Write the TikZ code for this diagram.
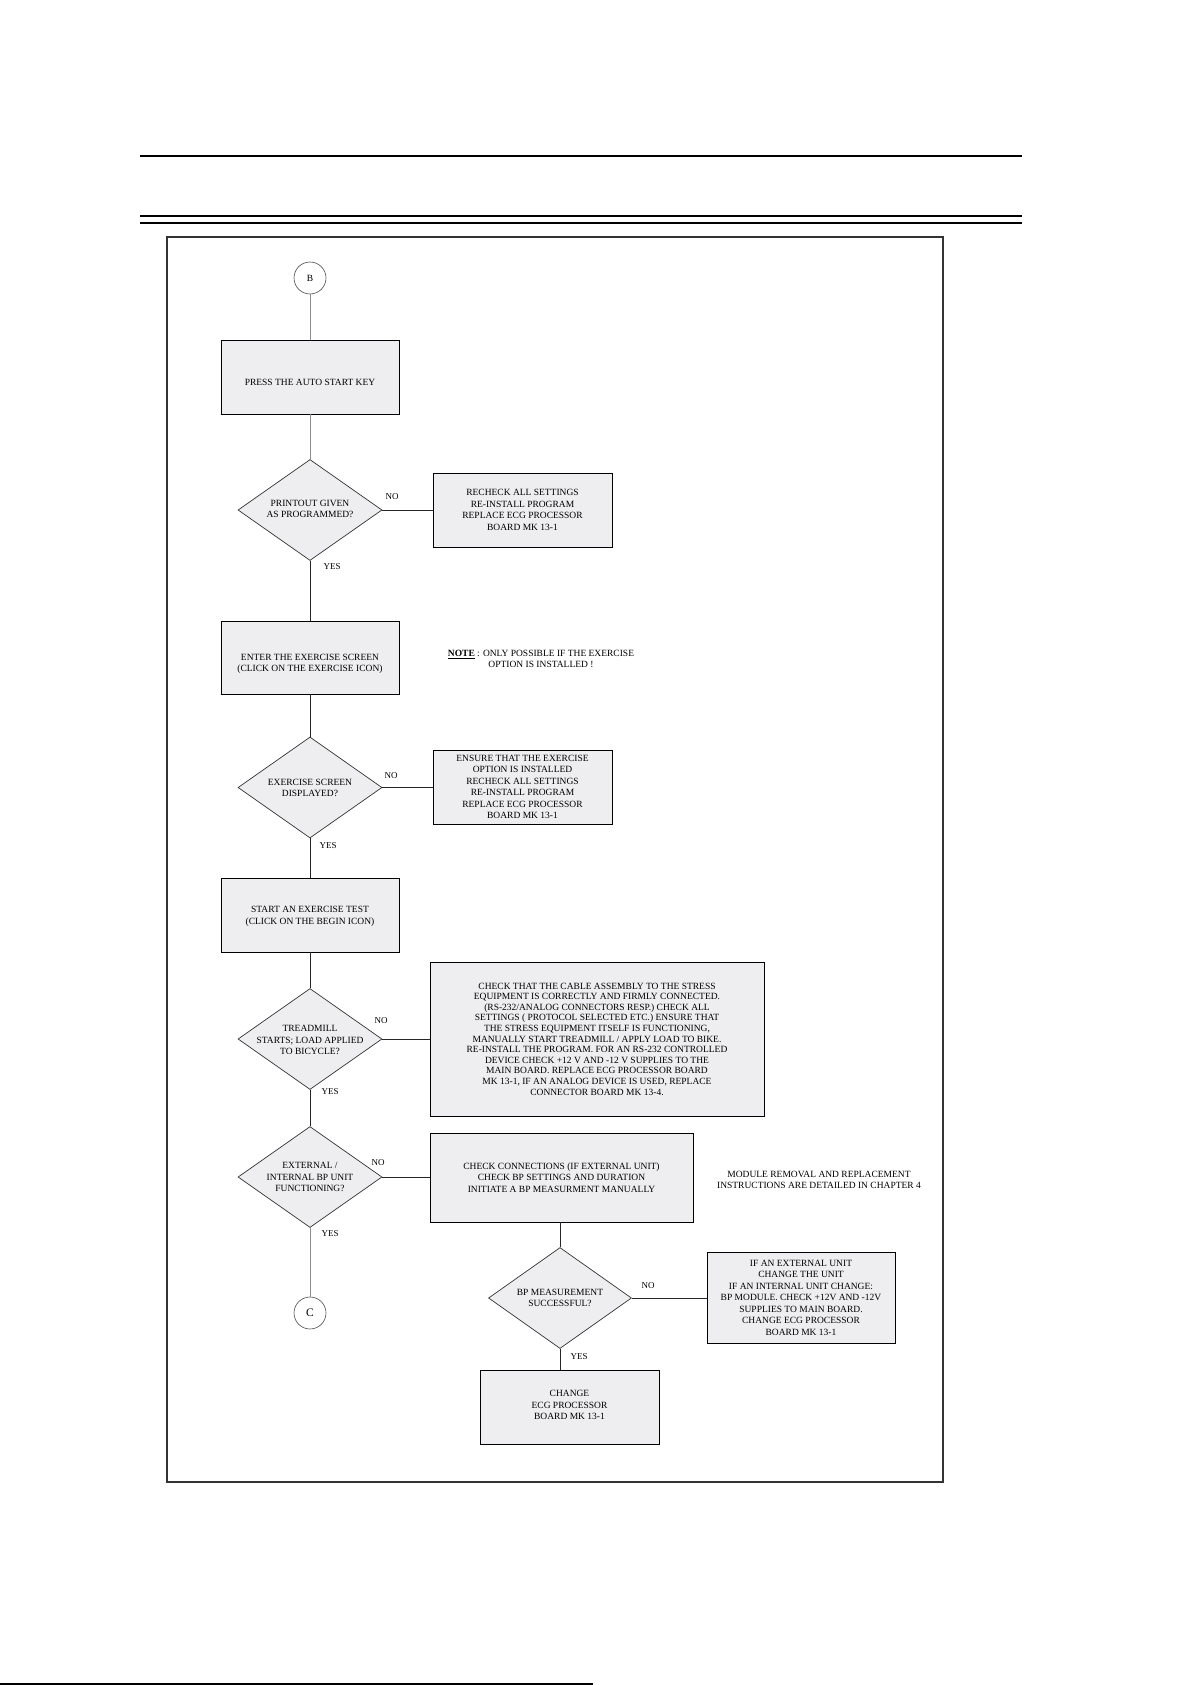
\documentclass[tikz,border=0pt]{standalone}
\usepackage{fontspec}
\setmainfont{Liberation Serif}
\usetikzlibrary{shapes.geometric}
\definecolor{boxfill}{RGB}{238,238,240}
\begin{document}
\begin{tikzpicture}[x=1pt,y=-1pt,
  every node/.style={font=\fontsize{9.5}{11.5}\selectfont, inner sep=0pt},
  box/.style={rectangle, draw=black, line width=0.9pt, fill=boxfill, align=center},
  dia/.style={diamond, draw=black!80, line width=0.7pt, fill=boxfill, minimum width=144pt, minimum height=101pt},
  dtext/.style={align=center},
  conn/.style={line width=0.8pt, draw=black!85},
  lconn/.style={line width=0.8pt, draw=black!45},
  conn2/.style={circle, draw=black!70, line width=0.6pt, minimum size=32pt, fill=white},
  lab/.style={font=\fontsize{9}{10}\selectfont},
  frame/.style={draw=black!80, line width=2.6pt},
  rule/.style={draw=black, line width=1.2pt}]
\useasboundingbox (0,0) rectangle (1191,1685);

% page rules
\draw[rule] (140,156) -- (1022,156);
\draw[rule] (140,216) -- (1022,216);
\draw[rule] (140,223) -- (1022,223);
\draw[draw=black, line width=2pt] (0,1684) -- (593,1684);

% frame
\draw[frame] (167,237) rectangle (943,1482);

% nodes
\node[conn2] (B) at (310,278) {\fontsize{9.5}{10}\selectfont B};
\node[box, minimum width=178pt, minimum height=74pt] (b1) at (310,377) {\raisebox{-5.5pt}[\height][\depth]{PRESS THE AUTO START KEY}};

\node[dia] (d1) at (310,510) {};
\node[dtext] (d1t) at (310,509) {PRINTOUT GIVEN\\AS PROGRAMMED?};
\node[box, minimum width=179pt, minimum height=74pt] (r1) at (522.5,510) {RECHECK ALL SETTINGS\\RE-INSTALL PROGRAM\\REPLACE ECG PROCESSOR\\BOARD MK 13-1};

\node[box, minimum width=178pt, minimum height=73pt] (b2) at (310,657.5) {\raisebox{-6.5pt}[\height][\depth]{\parbox{170pt}{\centering ENTER THE EXERCISE SCREEN\\(CLICK ON THE EXERCISE ICON)}}};
\node[align=center] (note1) at (541,659) {\textbf{\underline{NOTE}} : ONLY POSSIBLE IF THE EXERCISE\\OPTION IS INSTALLED !};

\node[dia] (d2) at (310,787.5) {};
\node[dtext] (d2t) at (310,788) {EXERCISE SCREEN\\DISPLAYED?};
\node[box, minimum width=179pt, minimum height=74pt] (r2) at (522.5,787) {ENSURE THAT THE EXERCISE\\OPTION IS INSTALLED\\RECHECK ALL SETTINGS\\RE-INSTALL PROGRAM\\REPLACE ECG PROCESSOR\\BOARD MK 13-1};

\node[box, minimum width=178pt, minimum height=74pt] (b3) at (310,915) {\raisebox{-1.5pt}[\height][\depth]{\parbox{170pt}{\centering START AN EXERCISE TEST\\(CLICK ON THE BEGIN ICON)}}};

\node[dia] (d3) at (310,1039) {};
\node[dtext] (d3t) at (310,1040) {TREADMILL\\STARTS; LOAD APPLIED\\TO BICYCLE?};
\node[box, minimum width=334pt, minimum height=154pt, font=\fontsize{9.5}{10.6}\selectfont] (r3) at (597,1039) {CHECK THAT THE CABLE ASSEMBLY TO THE STRESS\\EQUIPMENT IS CORRECTLY AND FIRMLY CONNECTED.\\(RS-232/ANALOG CONNECTORS RESP.) CHECK ALL\\SETTINGS ( PROTOCOL SELECTED ETC.) ENSURE THAT\\THE STRESS EQUIPMENT ITSELF IS FUNCTIONING,\\MANUALLY START TREADMILL / APPLY LOAD TO BIKE.\\RE-INSTALL THE PROGRAM. FOR AN RS-232 CONTROLLED\\DEVICE CHECK +12 V AND -12 V SUPPLIES TO THE\\MAIN BOARD. REPLACE ECG PROCESSOR BOARD\\MK 13-1, IF AN ANALOG DEVICE IS USED, REPLACE\\CONNECTOR BOARD MK 13-4.};

\node[dia] (d4) at (310,1177) {};
\node[dtext] (d4t) at (310,1177) {EXTERNAL /\\INTERNAL BP UNIT\\FUNCTIONING?};
\node[box, minimum width=263pt, minimum height=89pt] (r4) at (561.5,1177.5) {CHECK CONNECTIONS (IF EXTERNAL UNIT)\\CHECK BP SETTINGS AND DURATION\\INITIATE A BP MEASURMENT MANUALLY};
\node[align=center] (note2) at (819,1180) {MODULE REMOVAL AND REPLACEMENT\\INSTRUCTIONS ARE DETAILED IN CHAPTER 4};

\node[conn2] (C) at (310,1313) {\fontsize{11.5}{12}\selectfont C};

\node[dia, minimum width=143pt] (d5) at (560,1298) {};
\node[dtext] (d5t) at (560,1298) {BP MEASUREMENT\\SUCCESSFUL?};
\node[box, minimum width=188pt, minimum height=91pt] (r5) at (801,1297.5) {IF AN EXTERNAL UNIT\\CHANGE THE UNIT\\IF AN INTERNAL UNIT CHANGE:\\BP MODULE. CHECK +12V AND -12V\\SUPPLIES TO MAIN BOARD.\\CHANGE ECG PROCESSOR\\BOARD MK 13-1};
\node[box, minimum width=179pt, minimum height=74pt] (b6) at (569.5,1407) {\raisebox{2pt}[\height][\depth]{\parbox{170pt}{\centering CHANGE\\ECG PROCESSOR\\BOARD MK 13-1}}};

% connectors
\draw[lconn] (B) -- (b1);
\draw[lconn] (b1) -- (d1.north);
\draw[conn] (d1.east) -- (r1.west);
\draw[conn] (d1.south) -- (b2.north);
\draw[conn] (b2) -- (d2.north);
\draw[conn] (d2.east) -- (r2.west |- d2.east);
\draw[conn] (d2.south) -- (b3.north);
\draw[conn] (b3) -- (d3.north);
\draw[conn] (d3.east) -- (r3.west |- d3.east);
\draw[conn] (d3.south) -- (d4.north);
\draw[conn] (d4.east) -- (r4.west |- d4.east);
\draw[lconn] (d4.south) -- (C);
\draw[conn] (r4.south -| d5.north) -- (d5.north);
\draw[conn] (d5.east) -- (r5.west |- d5.east);
\draw[conn] (d5.south) -- (d5.south |- b6.north);

% labels
\node[lab] (no1) at (392,497) {NO};
\node[lab] (yes1) at (332,567) {YES};
\node[lab] (no2) at (391,776) {NO};
\node[lab] (yes2) at (328,846) {YES};
\node[lab] (no3) at (381,1021) {NO};
\node[lab] (yes3) at (330,1092) {YES};
\node[lab] (no4) at (378,1163) {NO};
\node[lab] (yes4) at (330,1234) {YES};
\node[lab] (no5) at (648,1286) {NO};
\node[lab] (yes5) at (579,1357) {YES};
\end{tikzpicture}
\end{document}
